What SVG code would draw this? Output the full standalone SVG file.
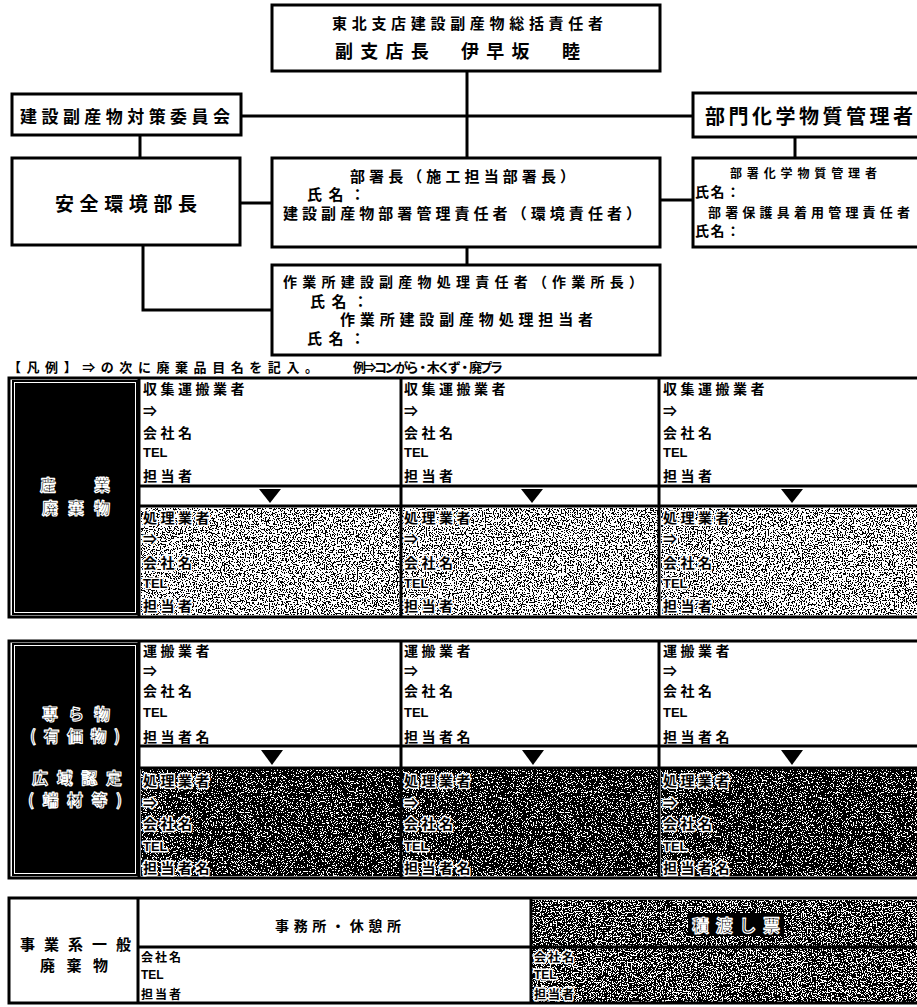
<svg xmlns="http://www.w3.org/2000/svg" width="917" height="1007" viewBox="0 0 917 1007">
<style>
.t{font-family:"Noto Sans CJK JP","Noto Sans CJK SC",sans-serif;font-weight:bold;fill:#000;dominant-baseline:central}
.l{font-family:"Liberation Sans",Arial,sans-serif;font-weight:bold;fill:#000;dominant-baseline:central}
.h{stroke:#fff;stroke-width:3;paint-order:stroke;stroke-linejoin:round}
.o{fill:#000;stroke:#fff;stroke-width:1.2;stroke-linejoin:round}
.box{fill:#fff;stroke:#000;stroke-width:3}
.ln{stroke:#000;stroke-width:3;fill:none}
.tl{stroke:#000;stroke-width:3;fill:none}
.c{font-size:14px;letter-spacing:3.5px}
.cl{font-size:13px}
</style>
<defs>
<filter id="nz1" x="0" y="0" width="1" height="1" color-interpolation-filters="sRGB">
<feTurbulence type="fractalNoise" baseFrequency="0.75" numOctaves="2" seed="3"/>
<feColorMatrix type="matrix" values="1 0 0 0 0 1 0 0 0 0 1 0 0 0 0 0 0 0 0 1"/>
<feComponentTransfer><feFuncR type="discrete" tableValues="0 0 0 0 0 0 0 0 0 1 1 1 1 1 1 1 1 1 1 1"/><feFuncG type="discrete" tableValues="0 0 0 0 0 0 0 0 0 1 1 1 1 1 1 1 1 1 1 1"/><feFuncB type="discrete" tableValues="0 0 0 0 0 0 0 0 0 1 1 1 1 1 1 1 1 1 1 1"/></feComponentTransfer>
</filter>
<filter id="nz2" x="0" y="0" width="1" height="1" color-interpolation-filters="sRGB">
<feTurbulence type="fractalNoise" baseFrequency="0.8" numOctaves="2" seed="7"/>
<feColorMatrix type="matrix" values="1 0 0 0 0 1 0 0 0 0 1 0 0 0 0 0 0 0 0 1"/>
<feComponentTransfer><feFuncR type="discrete" tableValues="0 0 0 0 0 0 0 0 0 0 0 0 1 1 1 1 1 1 1 1"/><feFuncG type="discrete" tableValues="0 0 0 0 0 0 0 0 0 0 0 0 1 1 1 1 1 1 1 1"/><feFuncB type="discrete" tableValues="0 0 0 0 0 0 0 0 0 0 0 0 1 1 1 1 1 1 1 1"/></feComponentTransfer>
</filter>
<filter id="nz3" x="0" y="0" width="1" height="1" color-interpolation-filters="sRGB">
<feTurbulence type="fractalNoise" baseFrequency="0.8" numOctaves="2" seed="11"/>
<feColorMatrix type="matrix" values="1 0 0 0 0 1 0 0 0 0 1 0 0 0 0 0 0 0 0 1"/>
<feComponentTransfer><feFuncR type="discrete" tableValues="0 0 0 0 0 0 0 0 0 0 0 1 1 1 1 1 1 1 1 1"/><feFuncG type="discrete" tableValues="0 0 0 0 0 0 0 0 0 0 0 1 1 1 1 1 1 1 1 1"/><feFuncB type="discrete" tableValues="0 0 0 0 0 0 0 0 0 0 0 1 1 1 1 1 1 1 1 1"/></feComponentTransfer>
</filter>
</defs>
<rect width="917" height="1007" fill="#fff"/>

<g id="connectors">
<line class="ln" x1="467" y1="71" x2="467" y2="158"/>
<line class="ln" x1="241" y1="116" x2="693" y2="116"/>
<line class="ln" x1="140" y1="135" x2="140" y2="158"/>
<line class="ln" x1="240" y1="203" x2="272" y2="203"/>
<polyline class="ln" points="143,245 143,310 272,310"/>
<line class="ln" x1="467" y1="247" x2="467" y2="265"/>
<line class="ln" x1="660" y1="200" x2="693" y2="200"/>
<line class="ln" x1="795" y1="137" x2="795" y2="158"/>
</g>

<g id="top">
<rect class="box" x="272" y="5" width="388" height="66"/>
<text class="t" x="332" y="22" font-size="15" textLength="271" lengthAdjust="spacing">東北支店建設副産物総括責任者</text>
<text class="t" x="335" y="50" font-size="18" textLength="245" lengthAdjust="spacing">副支店長　伊早坂　睦</text>
</g>
<g id="committee">
<rect class="box" x="12" y="94" width="229" height="41"/>
<text class="t" x="20" y="115" font-size="17" textLength="210" lengthAdjust="spacing">建設副産物対策委員会</text>
</g>
<g id="safety">
<rect class="box" x="12" y="158" width="228" height="87"/>
<text class="t" x="55" y="202" font-size="19" textLength="142" lengthAdjust="spacing">安全環境部長</text>
</g>
<g id="dept">
<rect class="box" x="272" y="158" width="388" height="89"/>
<text class="t" x="350" y="175" font-size="15" textLength="225" lengthAdjust="spacing">部署長（施工担当部署長）</text>
<text class="t" x="307" y="193" font-size="15" textLength="58" lengthAdjust="spacing">氏名：</text>
<text class="t" x="283" y="212" font-size="15" textLength="358" lengthAdjust="spacing">建設副産物部署管理責任者（環境責任者）</text>
</g>
<g id="site">
<rect class="box" x="272" y="265" width="388" height="90"/>
<text class="t" x="283" y="281" font-size="14" textLength="360" lengthAdjust="spacing">作業所建設副産物処理責任者（作業所長）</text>
<text class="t" x="310" y="300" font-size="15" textLength="58" lengthAdjust="spacing">氏名：</text>
<text class="t" x="340" y="318" font-size="15" textLength="253" lengthAdjust="spacing">作業所建設副産物処理担当者</text>
<text class="t" x="307" y="337" font-size="15" textLength="58" lengthAdjust="spacing">氏名：</text>
</g>
<g id="chem-top">
<rect class="box" x="693" y="93" width="240" height="44"/>
<text class="t" x="705" y="115" font-size="20" textLength="208" lengthAdjust="spacing">部門化学物質管理者</text>
</g>
<g id="chem-bottom">
<rect class="box" x="693" y="158" width="240" height="89"/>
<text class="t" x="730" y="172" font-size="12" textLength="147" lengthAdjust="spacing">部署化学物質管理者</text>
<text class="t" x="695" y="191" font-size="14" textLength="45" lengthAdjust="spacing">氏名：</text>
<text class="t" x="708" y="211" font-size="13" textLength="202" lengthAdjust="spacing">部署保護具着用管理責任者</text>
<text class="t" x="695" y="230" font-size="14" textLength="45" lengthAdjust="spacing">氏名：</text>
</g>

<g id="legend">
<text class="t" x="8" y="366" font-size="13" textLength="310" lengthAdjust="spacing">【凡例】⇒の次に廃棄品目名を記入。</text>
<text class="t" x="353" y="366" font-size="13" textLength="150" lengthAdjust="spacing">例⇒コンがら・木くず・廃プラ</text>
</g>

<g id="table-industrial">
<rect x="141" y="508" width="259" height="107" filter="url(#nz1)"/>
<rect x="402" y="508" width="256" height="107" filter="url(#nz1)"/>
<rect x="661" y="508" width="260" height="107" filter="url(#nz1)"/>
<rect x="9" y="378" width="920" height="239" class="tl"/>
<rect x="12" y="380" width="126" height="235" fill="#000"/>
<rect x="14.5" y="382.5" width="121" height="230" fill="none" stroke="#fff" stroke-width="1"/>
<line class="tl" x1="139" y1="378" x2="139" y2="617"/>
<line class="tl" x1="401" y1="378" x2="401" y2="617"/>
<line class="tl" x1="659" y1="378" x2="659" y2="617"/>
<line class="tl" x1="139" y1="486" x2="917" y2="486"/>
<line class="tl" x1="139" y1="506" x2="917" y2="506"/>
<polygon points="259,489 281,489 270,503"/>
<polygon points="521,489 543,489 532,503"/>
<polygon points="781,489 803,489 792,503"/>
<text class="t o" x="40" y="484" font-size="16" textLength="70" lengthAdjust="spacing">産　業</text>
<text class="t o" x="42" y="507" font-size="16" textLength="68" lengthAdjust="spacing">廃棄物</text>
<g>
<text class="t c" x="143" y="388">収集運搬業者</text>
<text class="t c" x="143" y="410">⇒</text>
<text class="t c" x="143" y="432">会社名</text>
<text class="l cl" x="143" y="452">TEL</text>
<text class="t c" x="143" y="475">担当者</text>
<text class="t c h" x="143" y="517">処理業者</text>
<text class="t c h" x="143" y="538">⇒</text>
<text class="t c h" x="143" y="562">会社名</text>
<text class="l cl h" x="143" y="583">TEL</text>
<text class="t c h" x="143" y="605">担当者</text>
</g>
<g>
<text class="t c" x="404" y="388">収集運搬業者</text>
<text class="t c" x="404" y="410">⇒</text>
<text class="t c" x="404" y="432">会社名</text>
<text class="l cl" x="404" y="452">TEL</text>
<text class="t c" x="404" y="475">担当者</text>
<text class="t c h" x="404" y="517">処理業者</text>
<text class="t c h" x="404" y="538">⇒</text>
<text class="t c h" x="404" y="562">会社名</text>
<text class="l cl h" x="404" y="583">TEL</text>
<text class="t c h" x="404" y="605">担当者</text>
</g>
<g>
<text class="t c" x="663" y="388">収集運搬業者</text>
<text class="t c" x="663" y="410">⇒</text>
<text class="t c" x="663" y="432">会社名</text>
<text class="l cl" x="663" y="452">TEL</text>
<text class="t c" x="663" y="475">担当者</text>
<text class="t c h" x="663" y="517">処理業者</text>
<text class="t c h" x="663" y="538">⇒</text>
<text class="t c h" x="663" y="562">会社名</text>
<text class="l cl h" x="663" y="583">TEL</text>
<text class="t c h" x="663" y="605">担当者</text>
</g>
</g>

<g id="table-valuables">
<rect x="141" y="769" width="259" height="107" filter="url(#nz2)"/>
<rect x="402" y="769" width="256" height="107" filter="url(#nz2)"/>
<rect x="661" y="769" width="260" height="107" filter="url(#nz2)"/>
<rect x="9" y="641" width="920" height="237" class="tl"/>
<rect x="12" y="643" width="126" height="233" fill="#000"/>
<rect x="14.5" y="645.5" width="121" height="228" fill="none" stroke="#fff" stroke-width="1"/>
<line class="tl" x1="139" y1="641" x2="139" y2="878"/>
<line class="tl" x1="401" y1="641" x2="401" y2="878"/>
<line class="tl" x1="659" y1="641" x2="659" y2="878"/>
<line class="tl" x1="139" y1="746" x2="917" y2="746"/>
<line class="tl" x1="139" y1="768" x2="917" y2="768"/>
<polygon points="261,750 283,750 272,765"/>
<polygon points="522,750 544,750 533,765"/>
<polygon points="781,750 803,750 792,765"/>
<text class="t o" x="42" y="713" font-size="16" textLength="68" lengthAdjust="spacing">専ら物</text>
<text class="t o" x="30" y="735" font-size="16" textLength="90" lengthAdjust="spacing">(有価物)</text>
<text class="t o" x="32" y="777" font-size="16" textLength="90" lengthAdjust="spacing">広域認定</text>
<text class="t o" x="28" y="799" font-size="16" textLength="94" lengthAdjust="spacing">(端材等)</text>
<g>
<text class="t c" x="143" y="650">運搬業者</text>
<text class="t c" x="143" y="670">⇒</text>
<text class="t c" x="143" y="690">会社名</text>
<text class="l cl" x="143" y="712">TEL</text>
<text class="t c" x="143" y="736">担当者名</text>
<text class="t c h" x="143" y="780">処理業者</text>
<text class="t c h" x="143" y="802">⇒</text>
<text class="t c h" x="143" y="823">会社名</text>
<text class="l cl h" x="143" y="846">TEL</text>
<text class="t c h" x="143" y="867">担当者名</text>
</g>
<g>
<text class="t c" x="404" y="650">運搬業者</text>
<text class="t c" x="404" y="670">⇒</text>
<text class="t c" x="404" y="690">会社名</text>
<text class="l cl" x="404" y="712">TEL</text>
<text class="t c" x="404" y="736">担当者名</text>
<text class="t c h" x="404" y="780">処理業者</text>
<text class="t c h" x="404" y="802">⇒</text>
<text class="t c h" x="404" y="823">会社名</text>
<text class="l cl h" x="404" y="846">TEL</text>
<text class="t c h" x="404" y="867">担当者名</text>
</g>
<g>
<text class="t c" x="663" y="650">運搬業者</text>
<text class="t c" x="663" y="670">⇒</text>
<text class="t c" x="663" y="690">会社名</text>
<text class="l cl" x="663" y="712">TEL</text>
<text class="t c" x="663" y="736">担当者名</text>
<text class="t c h" x="663" y="780">処理業者</text>
<text class="t c h" x="663" y="802">⇒</text>
<text class="t c h" x="663" y="823">会社名</text>
<text class="l cl h" x="663" y="846">TEL</text>
<text class="t c h" x="663" y="867">担当者名</text>
</g>
</g>

<g id="table-general">
<rect x="532" y="900" width="390" height="102" filter="url(#nz3)"/>
<rect x="9" y="898" width="920" height="105" class="tl"/>
<line class="tl" x1="138" y1="898" x2="138" y2="1003"/>
<line class="tl" x1="531" y1="898" x2="531" y2="1003"/>
<line class="tl" x1="138" y1="947" x2="917" y2="947"/>
<text class="t" x="20" y="943" font-size="15" textLength="111" lengthAdjust="spacing">事業系一般</text>
<text class="t" x="40" y="964" font-size="15" textLength="68" lengthAdjust="spacing">廃棄物</text>
<text class="t" x="275" y="925" font-size="14" textLength="126" lengthAdjust="spacing">事務所・休憩所</text>
<text class="t" x="141" y="956" font-size="12" letter-spacing="2">会社名</text>
<text class="l" x="141" y="975" font-size="12">TEL</text>
<text class="t" x="141" y="993" font-size="12" letter-spacing="2">担当者</text>
<rect x="688" y="913" width="96" height="23" fill="#000"/>
<text class="t o" x="692" y="924" font-size="17" textLength="88" lengthAdjust="spacing">積渡し票</text>
<text class="t h" x="534" y="956" font-size="12" letter-spacing="2">会社名</text>
<text class="l h" x="534" y="975" font-size="12">TEL</text>
<text class="t h" x="534" y="993" font-size="12" letter-spacing="2">担当者</text>
</g>
</svg>
